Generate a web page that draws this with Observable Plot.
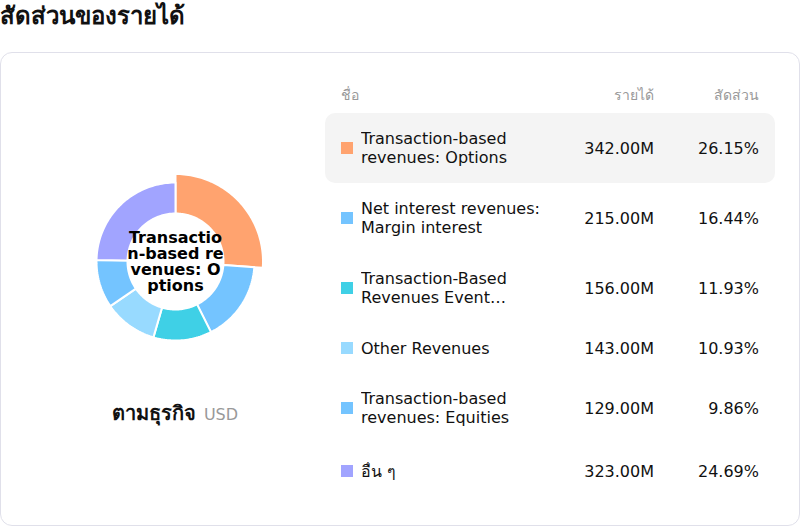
<!DOCTYPE html>
<html>
<head>
<meta charset="utf-8">
<script src="https://cdn.jsdelivr.net/npm/d3@7"></script>
<script src="https://cdn.jsdelivr.net/npm/@observablehq/plot@0.6"></script>
<style>
  html, body { margin: 0; padding: 0; background: #fff; }
  body { width: 800px; height: 526px; position: relative; overflow: hidden;
         font-family: "DejaVu Sans", "Noto Sans", sans-serif; color: #111; }
  #title { position: absolute; left: 0; top: 0; font-size: 24px; font-weight: bold;
           line-height: 32px; color: #111; }
  #card { position: absolute; left: 0; top: 52px; width: 800px; height: 474px; box-sizing: border-box;
          border: 1px solid #e0e0ea; border-radius: 12px; }
  #chart { position: absolute; left: 54.5px; top: 140.5px; width: 240px; height: 240px; }
  #sub { position: absolute; left: 0; width: 350px; top: 397px; text-align: center; white-space: nowrap; }
  #sub b { font-size: 20px; color: #111; }
  #sub span { font-size: 16px; color: #999; margin-left: 8px; }
  .hdr { position: absolute; top: 85px; font-size: 14px; color: #999; line-height: 20px; }
  .row { position: absolute; left: 325px; width: 450px; display: flex; align-items: center;
         border-radius: 10px; box-sizing: border-box; padding: 0 16px; }
  .row.active { background: #f4f4f4; }
  .sw { width: 12px; height: 12px; flex: none; margin-right: 8px; }
  .nm { width: 190px; font-size: 16px; line-height: 19px; overflow: hidden;
        display: -webkit-box; -webkit-line-clamp: 2; -webkit-box-orient: vertical; }
  .val { width: 103px; text-align: right; font-size: 16px; }
  .pct { width: 105px; text-align: right; font-size: 16px; }
</style>
</head>
<body>
<div id="title">สัดส่วนของรายได้</div>
<div id="card"></div>
<div id="chart"></div>
<div id="sub"><b>ตามธุรกิจ</b><span>USD</span></div>
<div class="hdr" style="left:341px">ชื่อ</div>
<div class="hdr" style="left:554px;width:100px;text-align:right">รายได้</div>
<div class="hdr" style="left:659px;width:100px;text-align:right">สัดส่วน</div>
<div id="rows"></div>
<script>
// ---- data ----
const names = [
  "Transaction-based revenues: Options",
  "Net interest revenues: Margin interest",
  "Transaction-Based Revenues Event Contracts",
  "Other Revenues",
  "Transaction-based revenues: Equities",
  "อื่น ๆ"
];
const revenues = [342, 215, 156, 143, 129, 323]; // millions USD
const shares = [26.15, 16.44, 11.93, 10.93, 9.86, 24.69]; // percent
const colors = ["#FFA36F", "#74C4FF", "#3FD0E6", "#98DAFF", "#74C4FF", "#A1A4FF"];
const centerLabel = "Transactio\nn-based re\nvenues: O\nptions";
const activeIndex = 0;

// ---- donut geometry (layout constants) ----
const R_IN = 48, R_OUT = 79, R_ACTIVE = 87.5;
const pie = d3.pie().sort(null).value(d => d.value)(names.map((n, i) => ({name: n, value: revenues[i], i})));
const pts = [];
for (const s of pie) {
  const ro = s.data.i === activeIndex ? R_ACTIVE : R_OUT;
  const n = Math.max(8, Math.ceil((s.endAngle - s.startAngle) * 40));
  for (let k = 0; k <= n; k++) {
    const a = s.startAngle + (s.endAngle - s.startAngle) * k / n;
    pts.push({name: s.data.name, x: ro * Math.sin(a), y: ro * Math.cos(a)});
  }
  for (let k = n; k >= 0; k--) {
    const a = s.startAngle + (s.endAngle - s.startAngle) * k / n;
    pts.push({name: s.data.name, x: R_IN * Math.sin(a), y: R_IN * Math.cos(a)});
  }
}

const plot = Plot.plot({
  width: 240, height: 240, margin: 0,
  x: {domain: [-120, 120], axis: null},
  y: {domain: [-120, 120], axis: null},
  color: {domain: names, range: colors},
  style: {background: "transparent", fontFamily: "DejaVu Sans, sans-serif"},
  marks: [
    Plot.line(pts, {x: "x", y: "y", z: "name", fill: "name", stroke: "white", strokeWidth: 2, curve: "linear-closed"}),
    Plot.text([centerLabel], {x: () => 0, y: () => 0, text: d => d, fontSize: 16, fontWeight: "bold", lineHeight: 1, fill: "#000"})
  ]
});
document.getElementById("chart").appendChild(plot);

// ---- table ----
const rowHeights = [70, 70, 70, 50, 70, 56];
let rowTop = 113;
const rowsEl = document.getElementById("rows");
names.forEach((n, i) => {
  const r = document.createElement("div");
  r.className = "row" + (i === activeIndex ? " active" : "");
  r.style.top = rowTop + "px";
  r.style.height = rowHeights[i] + "px";
  rowTop += rowHeights[i];
  r.innerHTML = `<div class="sw" style="background:${colors[i]}"></div>` +
    `<div class="nm"></div>` +
    `<div class="val">${revenues[i].toFixed(2)}M</div>` +
    `<div class="pct">${shares[i].toFixed(2)}%</div>`;
  r.querySelector(".nm").textContent = n;
  rowsEl.appendChild(r);
});
</script>
</body>
</html>
